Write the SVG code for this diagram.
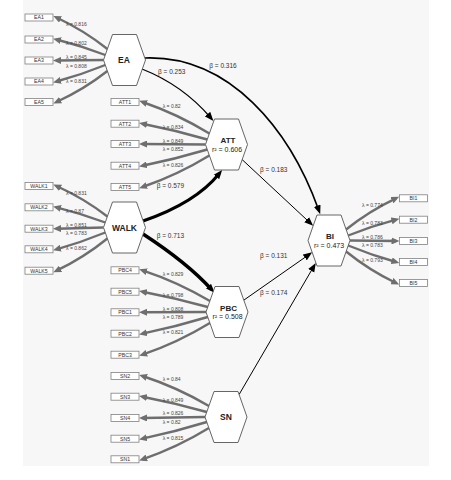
<svg xmlns="http://www.w3.org/2000/svg" width="451" height="480" viewBox="0 0 451 480">
<style>
text{font-family:"Liberation Sans",Arial,sans-serif}
.hex{fill:#fff;stroke:#555;stroke-width:0.9}
.box{fill:#fff;stroke:#808080;stroke-width:0.8}
.bt{font-size:5.2px;fill:#333;text-anchor:middle}
.nm{font-size:8.5px;font-weight:bold;fill:#222;text-anchor:middle}
.nm2{font-size:8px;font-weight:bold;fill:#222;text-anchor:middle}
.r2{font-size:7px;fill:#222;text-anchor:middle}
.ld{fill:none;stroke:#6e6e6e;stroke-width:2.4;marker-end:url(#ag)}
.st{fill:none;stroke:#000;stroke-width:1;marker-end:url(#ab)}
.lam{font-size:5px;fill:#444}
.bet{font-size:6.5px;fill:#333}
</style>
<defs>
<marker id="ab" markerUnits="userSpaceOnUse" markerWidth="10" markerHeight="8" refX="4.5" refY="4" orient="auto"><path d="M0,0.5 L9,4 L0,7.5 z" fill="#000"/></marker>
<marker id="ag" markerUnits="userSpaceOnUse" markerWidth="9" markerHeight="7" refX="4.5" refY="3.5" orient="auto"><path d="M0,0 L8,3.5 L0,7 z" fill="#6e6e6e"/></marker>
<polygon id="hx" points="-21,0 -12,-25.5 12,-25.5 21,0 12,25.5 -12,25.5"/>
</defs>
<rect x="0" y="0" width="451" height="480" fill="#fff"/>
<rect x="23" y="0" width="406" height="466" fill="#f7f7f7"/>

<g id="connectors">
<!-- EA loadings -->
<path class="ld" d="M107.4,49 Q83.8,30.3 56.5,17.5"/>
<path class="ld" d="M105.3,55 Q81.4,45.8 56.5,39.5"/>
<path class="ld" d="M103.5,60 L56.5,60.5"/>
<path class="ld" d="M105.3,65 Q81.4,74.7 56.5,81.5"/>
<path class="ld" d="M107.4,71 Q83.8,89.5 56.5,102"/>
<!-- WALK loadings -->
<path class="ld" d="M107.4,216.5 Q83.8,198.3 56.5,186"/>
<path class="ld" d="M105.3,222.5 Q81.4,213.5 56.5,207.3"/>
<path class="ld" d="M103.5,227.5 L56.5,228.7"/>
<path class="ld" d="M105.3,232.5 Q81.4,242.3 56.5,249.3"/>
<path class="ld" d="M107.4,238.5 Q83.8,257.6 56.5,270.7"/>
<!-- ATT loadings -->
<path class="ld" d="M209.4,133.5 Q177.7,114.1 142.5,102"/>
<path class="ld" d="M207.3,139.5 Q175.3,130.1 142.5,123.7"/>
<path class="ld" d="M205.5,144.5 L142.5,144"/>
<path class="ld" d="M207.3,149.5 Q175.3,159.1 142.5,165.7"/>
<path class="ld" d="M209.4,155.5 Q177.7,174.9 142.5,187"/>
<!-- PBC loadings -->
<path class="ld" d="M209.9,301 Q177.9,282 142.5,270.3"/>
<path class="ld" d="M207.8,307 Q175.5,297.9 142.5,291.7"/>
<path class="ld" d="M206,312 L142.5,312.3"/>
<path class="ld" d="M207.8,317 Q175.5,326.8 142.5,333.7"/>
<path class="ld" d="M209.9,323 Q177.9,342.5 142.5,354.7"/>
<!-- SN loadings -->
<path class="ld" d="M208.9,406 Q177.4,387.4 142.5,376"/>
<path class="ld" d="M206.8,412 Q175,402.9 142.5,396.7"/>
<path class="ld" d="M205,417 L142.5,418"/>
<path class="ld" d="M206.8,422 Q175,431.8 142.5,438.7"/>
<path class="ld" d="M208.9,428 Q177.4,447.3 142.5,459.3"/>
<!-- BI loadings -->
<path class="ld" d="M346.1,229.5 Q369.2,210.9 396,198.3"/>
<path class="ld" d="M348.2,235.5 Q371.6,226.2 396,219.7"/>
<path class="ld" d="M350,240.5 L396,241"/>
<path class="ld" d="M348.2,245.5 Q371.6,255.2 396,262"/>
<path class="ld" d="M346.1,251.5 Q369.2,270.2 396,283"/>
<!-- structural paths -->
<path class="st" style="stroke-width:1.6" d="M145,58 C230,55 290,130 318.7,210"/>
<path class="st" style="stroke-width:1.3" d="M142,69 Q182.5,85 210.5,117.5"/>
<path class="st" style="stroke-width:3" d="M143,221 Q195.7,202.9 219.3,173.5"/>
<path class="st" style="stroke-width:3.4" d="M143,234 Q187.5,263 211.5,289.5"/>
<path class="st" d="M241.5,159 L309.9,222.7"/>
<path class="st" d="M243.6,300.3 L308.5,254.9"/>
<path class="st" d="M239.1,394.5 L313.5,266.9"/>
</g>

<g id="loading-labels">
<text class="lam" x="66" y="25.8">λ = 0.816</text>
<text class="lam" x="66" y="44.8">λ = 0.802</text>
<text class="lam" x="66" y="58.8">λ = 0.845</text>
<text class="lam" x="66" y="67.8">λ = 0.808</text>
<text class="lam" x="66" y="82.8">λ = 0.831</text>
<text class="lam" x="162.7" y="107.8">λ = 0.82</text>
<text class="lam" x="162.7" y="129.1">λ = 0.834</text>
<text class="lam" x="162.7" y="142.5">λ = 0.849</text>
<text class="lam" x="162.7" y="151.1">λ = 0.852</text>
<text class="lam" x="162.7" y="167.1">λ = 0.826</text>
<text class="lam" x="66" y="194.5">λ = 0.831</text>
<text class="lam" x="66" y="213.1">λ = 0.87</text>
<text class="lam" x="66" y="226.5">λ = 0.851</text>
<text class="lam" x="66" y="234.5">λ = 0.783</text>
<text class="lam" x="66" y="249.8">λ = 0.862</text>
<text class="lam" x="162.7" y="275.8">λ = 0.829</text>
<text class="lam" x="162.7" y="296.5">λ = 0.798</text>
<text class="lam" x="162.7" y="310.5">λ = 0.808</text>
<text class="lam" x="162.7" y="319.1">λ = 0.789</text>
<text class="lam" x="162.7" y="333.8">λ = 0.821</text>
<text class="lam" x="162.7" y="381.1">λ = 0.84</text>
<text class="lam" x="162.7" y="401.8">λ = 0.849</text>
<text class="lam" x="162.7" y="415.1">λ = 0.826</text>
<text class="lam" x="162.7" y="423.8">λ = 0.82</text>
<text class="lam" x="162.7" y="439.8">λ = 0.815</text>
<text class="lam" x="362" y="206.5">λ = 0.774</text>
<text class="lam" x="362" y="224.5">λ = 0.783</text>
<text class="lam" x="362" y="238.5">λ = 0.786</text>
<text class="lam" x="362" y="247.1">λ = 0.783</text>
<text class="lam" x="362" y="261.8">λ = 0.793</text>
</g>

<g id="path-labels">
<text class="bet" x="209.3" y="67.6">β = 0.316</text>
<text class="bet" x="158" y="74.3">β = 0.253</text>
<text class="bet" x="156.7" y="188.3">β = 0.579</text>
<text class="bet" x="156.7" y="237.6">β = 0.713</text>
<text class="bet" x="260" y="171.6">β = 0.183</text>
<text class="bet" x="260" y="257.6">β = 0.131</text>
<text class="bet" x="260" y="295">β = 0.174</text>
</g>

<g id="EA"><use href="#hx" class="hex" x="124.5" y="60"/><text class="nm" x="124" y="63">EA</text></g>
<g id="ATT"><use href="#hx" class="hex" x="226.5" y="144.5"/><text class="nm2" x="228" y="143.2">ATT</text><text class="r2" x="227" y="151.5">r² = 0.606</text></g>
<g id="WALK"><use href="#hx" class="hex" x="124.5" y="227.5"/><text class="nm" x="124.5" y="230.5">WALK</text></g>
<g id="PBC"><use href="#hx" class="hex" x="227" y="312"/><text class="nm2" x="228.5" y="310.7">PBC</text><text class="r2" x="227.5" y="319">r² = 0.508</text></g>
<g id="BI"><use href="#hx" class="hex" x="329" y="240.5"/><text class="nm2" x="330" y="239.2">BI</text><text class="r2" x="329" y="247.5">r² = 0.473</text></g>
<g id="SN"><use href="#hx" class="hex" x="226" y="417"/><text class="nm" x="226" y="420">SN</text></g>

<g id="EA1"><rect class="box" x="25" y="14" width="28" height="7"/><text class="bt" x="39" y="19.4">EA1</text></g>
<g id="EA2"><rect class="box" x="25" y="36" width="28" height="7"/><text class="bt" x="39" y="41.4">EA2</text></g>
<g id="EA3"><rect class="box" x="25" y="57" width="28" height="7"/><text class="bt" x="39" y="62.4">EA3</text></g>
<g id="EA4"><rect class="box" x="25" y="78" width="28" height="7"/><text class="bt" x="39" y="83.4">EA4</text></g>
<g id="EA5"><rect class="box" x="25" y="98.5" width="28" height="7"/><text class="bt" x="39" y="103.9">EA5</text></g>

<g id="ATT1"><rect class="box" x="111" y="98.5" width="28" height="7"/><text class="bt" x="125" y="103.9">ATT1</text></g>
<g id="ATT2"><rect class="box" x="111" y="120.2" width="28" height="7"/><text class="bt" x="125" y="125.6">ATT2</text></g>
<g id="ATT3"><rect class="box" x="111" y="140.5" width="28" height="7"/><text class="bt" x="125" y="145.9">ATT3</text></g>
<g id="ATT4"><rect class="box" x="111" y="162.2" width="28" height="7"/><text class="bt" x="125" y="167.6">ATT4</text></g>
<g id="ATT5"><rect class="box" x="111" y="183.5" width="28" height="7"/><text class="bt" x="125" y="188.9">ATT5</text></g>

<g id="WALK1"><rect class="box" x="25" y="182.5" width="28" height="7"/><text class="bt" x="39" y="187.9">WALK1</text></g>
<g id="WALK2"><rect class="box" x="25" y="203.8" width="28" height="7"/><text class="bt" x="39" y="209.2">WALK2</text></g>
<g id="WALK3"><rect class="box" x="25" y="225.2" width="28" height="7"/><text class="bt" x="39" y="230.6">WALK3</text></g>
<g id="WALK4"><rect class="box" x="25" y="245.8" width="28" height="7"/><text class="bt" x="39" y="251.2">WALK4</text></g>
<g id="WALK5"><rect class="box" x="25" y="267.2" width="28" height="7"/><text class="bt" x="39" y="272.6">WALK5</text></g>

<g id="PBC4"><rect class="box" x="111" y="266.8" width="28" height="7"/><text class="bt" x="125" y="272.2">PBC4</text></g>
<g id="PBC5"><rect class="box" x="111" y="288.2" width="28" height="7"/><text class="bt" x="125" y="293.6">PBC5</text></g>
<g id="PBC1"><rect class="box" x="111" y="308.8" width="28" height="7"/><text class="bt" x="125" y="314.2">PBC1</text></g>
<g id="PBC2"><rect class="box" x="111" y="330.2" width="28" height="7"/><text class="bt" x="125" y="335.6">PBC2</text></g>
<g id="PBC3"><rect class="box" x="111" y="351.2" width="28" height="7"/><text class="bt" x="125" y="356.6">PBC3</text></g>

<g id="SN2"><rect class="box" x="111" y="372.5" width="28" height="7"/><text class="bt" x="125" y="377.9">SN2</text></g>
<g id="SN3"><rect class="box" x="111" y="393.2" width="28" height="7"/><text class="bt" x="125" y="398.6">SN3</text></g>
<g id="SN4"><rect class="box" x="111" y="414.5" width="28" height="7"/><text class="bt" x="125" y="419.9">SN4</text></g>
<g id="SN5"><rect class="box" x="111" y="435.2" width="28" height="7"/><text class="bt" x="125" y="440.6">SN5</text></g>
<g id="SN1"><rect class="box" x="111" y="455.8" width="28" height="7"/><text class="bt" x="125" y="461.2">SN1</text></g>

<g id="BI1"><rect class="box" x="399.5" y="194.8" width="28" height="7"/><text class="bt" x="413.5" y="200.2">BI1</text></g>
<g id="BI2"><rect class="box" x="399.5" y="216.2" width="28" height="7"/><text class="bt" x="413.5" y="221.6">BI2</text></g>
<g id="BI3"><rect class="box" x="399.5" y="237.5" width="28" height="7"/><text class="bt" x="413.5" y="242.9">BI3</text></g>
<g id="BI4"><rect class="box" x="399.5" y="258.5" width="28" height="7"/><text class="bt" x="413.5" y="263.9">BI4</text></g>
<g id="BI5"><rect class="box" x="399.5" y="279.5" width="28" height="7"/><text class="bt" x="413.5" y="284.9">BI5</text></g>
</svg>
